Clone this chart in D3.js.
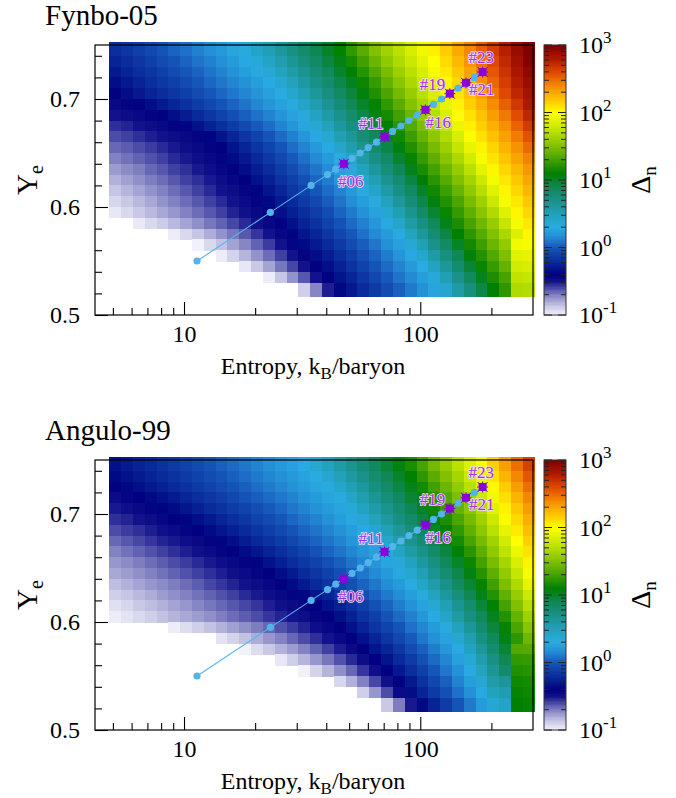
<!DOCTYPE html>
<html><head><meta charset="utf-8">
<script src="https://cdn.jsdelivr.net/npm/d3@7"></script>
<style>
body{margin:0;background:#fff}
svg{display:block}
text{font-family:"Liberation Serif","Times New Roman",serif;fill:#000}
</style>
</head><body>
<svg id="c" width="676" height="798"></svg>
<script>
// ---------------- DATA ----------------
const panelTitles = ["Fynbo-05", "Angulo-99"];
// entropy bin centres (kB/baryon)
const entropyBins = [5.12,5.74,6.44,7.23,8.11,9.10,10.21,11.46,12.85,14.42,16.18,18.16,20.37,22.86,25.64,28.77,32.28,36.22,40.64,45.60,51.17,57.41,64.42,72.28,81.10,91.0,102.1,114.6,128.5,144.2,161.8,181.6,203.7,228.6,256.4,287.7];
// Ye bin centres (rows listed top to bottom)
const yeBins = [0.745,0.735,0.725,0.715,0.705,0.695,0.685,0.675,0.665,0.655,0.645,0.635,0.625,0.615,0.605,0.595,0.585,0.575,0.565,0.555,0.545,0.535,0.525];
// log10(Delta_n) per cell, null = below 0.1 (not drawn)
const fynboLogDn = [
[-0.19,-0.15,-0.10,-0.06,-0.01,0.04,0.08,0.13,0.18,0.22,0.27,0.33,0.43,0.52,0.62,0.72,0.82,0.91,1.01,1.11,1.25,1.38,1.51,1.63,1.73,1.84,1.94,2.05,2.17,2.29,2.41,2.53,2.65,2.77,2.90,3.03],
[-0.24,-0.20,-0.15,-0.10,-0.05,-0.01,0.04,0.09,0.13,0.18,0.23,0.28,0.35,0.45,0.55,0.65,0.75,0.85,0.95,1.05,1.17,1.30,1.43,1.56,1.68,1.79,1.89,2.00,2.12,2.24,2.36,2.48,2.61,2.73,2.86,2.98],
[-0.29,-0.24,-0.19,-0.15,-0.10,-0.05,0.00,0.04,0.09,0.14,0.19,0.24,0.28,0.37,0.47,0.57,0.68,0.78,0.88,0.99,1.09,1.22,1.35,1.48,1.61,1.73,1.84,1.96,2.07,2.19,2.31,2.43,2.56,2.69,2.82,2.93],
[-0.34,-0.29,-0.24,-0.19,-0.14,-0.10,-0.05,0.00,0.05,0.10,0.15,0.19,0.24,0.29,0.39,0.49,0.60,0.71,0.81,0.92,1.03,1.14,1.27,1.41,1.54,1.67,1.79,1.90,2.02,2.14,2.26,2.38,2.51,2.65,2.78,2.89],
[-0.39,-0.34,-0.29,-0.24,-0.20,-0.15,-0.10,-0.05,0.00,0.05,0.10,0.15,0.20,0.25,0.30,0.41,0.52,0.63,0.74,0.85,0.96,1.07,1.20,1.33,1.46,1.59,1.72,1.85,1.97,2.09,2.21,2.33,2.46,2.60,2.74,2.85],
[-0.45,-0.42,-0.39,-0.34,-0.28,-0.23,-0.18,-0.12,-0.07,-0.01,0.04,0.09,0.15,0.20,0.26,0.32,0.43,0.55,0.66,0.77,0.89,1.00,1.12,1.25,1.38,1.52,1.65,1.78,1.91,2.04,2.16,2.27,2.39,2.53,2.67,2.81],
[-0.50,-0.47,-0.45,-0.42,-0.39,-0.33,-0.27,-0.21,-0.15,-0.09,-0.03,0.03,0.08,0.14,0.20,0.26,0.34,0.46,0.58,0.69,0.81,0.93,1.05,1.17,1.30,1.44,1.57,1.71,1.85,1.99,2.10,2.21,2.33,2.45,2.59,2.74],
[-0.55,-0.53,-0.50,-0.47,-0.45,-0.42,-0.38,-0.32,-0.25,-0.19,-0.12,-0.06,0.01,0.07,0.14,0.20,0.27,0.37,0.49,0.61,0.73,0.85,0.97,1.09,1.23,1.36,1.49,1.63,1.77,1.92,2.05,2.16,2.27,2.38,2.52,2.66],
[-0.60,-0.58,-0.55,-0.52,-0.50,-0.47,-0.45,-0.42,-0.38,-0.31,-0.23,-0.16,-0.09,-0.01,0.06,0.13,0.21,0.28,0.39,0.52,0.64,0.77,0.89,1.02,1.15,1.28,1.42,1.55,1.69,1.84,1.99,2.10,2.21,2.32,2.44,2.58],
[-0.65,-0.63,-0.60,-0.57,-0.54,-0.51,-0.48,-0.45,-0.42,-0.39,-0.31,-0.23,-0.16,-0.08,-0.01,0.07,0.14,0.22,0.29,0.42,0.55,0.68,0.81,0.94,1.07,1.20,1.34,1.47,1.61,1.76,1.91,2.04,2.15,2.26,2.37,2.50],
[-0.70,-0.67,-0.64,-0.61,-0.58,-0.54,-0.51,-0.48,-0.45,-0.42,-0.36,-0.29,-0.22,-0.14,-0.07,0.01,0.08,0.16,0.23,0.31,0.44,0.58,0.72,0.85,0.99,1.12,1.26,1.39,1.53,1.67,1.82,1.97,2.09,2.20,2.31,2.42],
[-0.76,-0.72,-0.69,-0.65,-0.62,-0.58,-0.55,-0.51,-0.48,-0.44,-0.41,-0.34,-0.27,-0.20,-0.12,-0.05,0.03,0.10,0.17,0.25,0.34,0.48,0.62,0.76,0.90,1.04,1.18,1.31,1.45,1.58,1.73,1.89,2.03,2.14,2.24,2.35],
[-0.81,-0.77,-0.73,-0.69,-0.66,-0.62,-0.58,-0.55,-0.51,-0.47,-0.44,-0.40,-0.32,-0.25,-0.17,-0.10,-0.03,0.05,0.12,0.20,0.27,0.39,0.53,0.67,0.81,0.95,1.10,1.23,1.37,1.50,1.64,1.80,1.96,2.08,2.19,2.30],
[-0.86,-0.82,-0.78,-0.74,-0.70,-0.66,-0.62,-0.58,-0.54,-0.50,-0.47,-0.43,-0.38,-0.30,-0.23,-0.15,-0.08,0.00,0.07,0.14,0.22,0.29,0.43,0.58,0.72,0.86,1.01,1.15,1.29,1.42,1.56,1.71,1.88,2.03,2.14,2.25],
[-0.91,-0.87,-0.83,-0.79,-0.74,-0.70,-0.66,-0.62,-0.58,-0.54,-0.50,-0.46,-0.42,-0.36,-0.28,-0.21,-0.13,-0.06,0.02,0.09,0.17,0.24,0.33,0.48,0.63,0.77,0.92,1.07,1.21,1.34,1.48,1.62,1.79,1.96,2.08,2.19],
[-0.96,-0.92,-0.87,-0.83,-0.79,-0.75,-0.70,-0.66,-0.62,-0.58,-0.53,-0.49,-0.45,-0.41,-0.33,-0.26,-0.19,-0.11,-0.04,0.04,0.11,0.19,0.26,0.38,0.53,0.68,0.83,0.98,1.13,1.26,1.40,1.54,1.69,1.87,2.03,2.14],
[null,null,-0.97,-0.92,-0.88,-0.83,-0.78,-0.73,-0.68,-0.64,-0.59,-0.54,-0.49,-0.44,-0.39,-0.32,-0.24,-0.17,-0.09,-0.02,0.06,0.13,0.21,0.29,0.42,0.58,0.73,0.88,1.04,1.18,1.32,1.45,1.59,1.77,1.96,2.08],
[null,null,null,null,null,-0.98,-0.92,-0.86,-0.80,-0.74,-0.68,-0.62,-0.56,-0.50,-0.44,-0.38,-0.30,-0.23,-0.15,-0.07,0.00,0.08,0.16,0.23,0.32,0.47,0.63,0.79,0.94,1.10,1.24,1.37,1.51,1.67,1.86,2.03],
[null,null,null,null,null,null,null,-0.99,-0.92,-0.85,-0.78,-0.71,-0.64,-0.57,-0.50,-0.43,-0.36,-0.28,-0.21,-0.13,-0.05,0.02,0.10,0.18,0.25,0.37,0.53,0.69,0.85,1.01,1.16,1.29,1.43,1.57,1.95,1.97],
[null,null,null,null,null,null,null,null,null,-0.98,-0.90,-0.82,-0.74,-0.66,-0.58,-0.50,-0.42,-0.34,-0.27,-0.19,-0.11,-0.03,0.04,0.12,0.20,0.28,0.41,0.58,0.74,0.90,1.07,1.21,1.35,1.49,1.88,1.90],
[null,null,null,null,null,null,null,null,null,null,null,-0.96,-0.87,-0.78,-0.68,-0.59,-0.50,-0.41,-0.33,-0.25,-0.17,-0.09,-0.01,0.06,0.14,0.22,0.30,0.47,0.63,0.80,0.97,1.13,1.27,1.41,1.82,1.84],
[null,null,null,null,null,null,null,null,null,null,null,null,null,-0.98,-0.86,-0.74,-0.62,-0.50,-0.39,-0.31,-0.23,-0.15,-0.07,0.01,0.09,0.16,0.24,0.35,0.52,0.69,0.86,1.03,1.19,1.32,1.75,1.77],
[null,null,null,null,null,null,null,null,null,null,null,null,null,null,null,null,-0.89,-0.71,-0.52,-0.37,-0.29,-0.21,-0.13,-0.05,0.03,0.11,0.19,0.27,0.40,0.58,0.75,0.93,1.10,1.24,1.68,1.70]
];
const anguloLogDn = [
[-0.32,-0.28,-0.24,-0.21,-0.17,-0.13,-0.09,-0.05,-0.01,0.03,0.06,0.10,0.14,0.18,0.22,0.26,0.30,0.39,0.48,0.58,0.68,0.77,0.87,0.97,1.06,1.18,1.32,1.46,1.59,1.73,1.86,1.99,2.16,2.33,2.49,2.64],
[-0.36,-0.32,-0.28,-0.24,-0.21,-0.17,-0.13,-0.09,-0.05,-0.01,0.03,0.07,0.11,0.15,0.18,0.22,0.26,0.30,0.40,0.50,0.60,0.70,0.80,0.90,1.00,1.10,1.24,1.38,1.51,1.65,1.79,1.93,2.09,2.25,2.41,2.56],
[-0.41,-0.37,-0.33,-0.29,-0.25,-0.21,-0.17,-0.13,-0.09,-0.05,-0.01,0.03,0.07,0.11,0.15,0.19,0.23,0.27,0.32,0.42,0.52,0.63,0.73,0.83,0.94,1.04,1.16,1.30,1.43,1.57,1.72,1.87,2.02,2.17,2.33,2.49],
[-0.46,-0.43,-0.40,-0.36,-0.32,-0.28,-0.23,-0.19,-0.15,-0.11,-0.07,-0.02,0.02,0.06,0.10,0.14,0.19,0.23,0.27,0.33,0.44,0.54,0.65,0.76,0.87,0.98,1.08,1.21,1.35,1.49,1.63,1.79,1.95,2.11,2.26,2.41],
[-0.51,-0.48,-0.45,-0.42,-0.39,-0.35,-0.30,-0.26,-0.21,-0.17,-0.12,-0.08,-0.04,0.01,0.05,0.10,0.14,0.19,0.23,0.27,0.35,0.46,0.57,0.68,0.79,0.91,1.02,1.14,1.27,1.41,1.54,1.70,1.88,2.04,2.19,2.34],
[-0.55,-0.53,-0.50,-0.47,-0.44,-0.41,-0.38,-0.33,-0.28,-0.23,-0.19,-0.14,-0.09,-0.05,0.00,0.05,0.09,0.14,0.19,0.24,0.28,0.37,0.49,0.60,0.72,0.83,0.95,1.06,1.19,1.33,1.47,1.62,1.80,1.98,2.13,2.28],
[-0.60,-0.57,-0.55,-0.52,-0.49,-0.46,-0.43,-0.40,-0.35,-0.30,-0.26,-0.21,-0.16,-0.11,-0.06,-0.01,0.04,0.09,0.14,0.19,0.24,0.29,0.40,0.51,0.63,0.75,0.87,0.99,1.11,1.25,1.40,1.55,1.72,1.90,2.07,2.22],
[-0.65,-0.62,-0.59,-0.56,-0.53,-0.51,-0.48,-0.45,-0.42,-0.38,-0.33,-0.27,-0.22,-0.17,-0.12,-0.07,-0.01,0.04,0.09,0.14,0.20,0.25,0.30,0.42,0.55,0.67,0.79,0.91,1.03,1.17,1.32,1.47,1.63,1.82,2.00,2.16],
[-0.70,-0.67,-0.64,-0.61,-0.58,-0.55,-0.52,-0.49,-0.46,-0.43,-0.40,-0.35,-0.30,-0.24,-0.19,-0.13,-0.08,-0.02,0.04,0.09,0.15,0.20,0.26,0.33,0.45,0.58,0.70,0.83,0.95,1.08,1.23,1.39,1.56,1.74,1.93,2.10],
[-0.75,-0.72,-0.69,-0.66,-0.63,-0.60,-0.57,-0.54,-0.51,-0.48,-0.45,-0.42,-0.38,-0.32,-0.26,-0.20,-0.14,-0.09,-0.03,0.03,0.09,0.15,0.21,0.27,0.36,0.49,0.61,0.74,0.87,1.00,1.14,1.31,1.48,1.65,1.85,2.04],
[-0.79,-0.76,-0.73,-0.70,-0.67,-0.64,-0.61,-0.58,-0.55,-0.52,-0.49,-0.46,-0.43,-0.40,-0.34,-0.28,-0.21,-0.15,-0.09,-0.03,0.03,0.10,0.16,0.22,0.28,0.39,0.52,0.66,0.79,0.92,1.06,1.22,1.39,1.57,1.77,1.97],
[-0.84,-0.81,-0.78,-0.75,-0.72,-0.69,-0.66,-0.63,-0.59,-0.56,-0.53,-0.50,-0.47,-0.44,-0.41,-0.35,-0.29,-0.22,-0.16,-0.09,-0.03,0.04,0.10,0.17,0.23,0.30,0.43,0.57,0.70,0.84,0.98,1.12,1.30,1.49,1.68,1.90],
[-0.89,-0.86,-0.83,-0.80,-0.76,-0.73,-0.70,-0.67,-0.64,-0.61,-0.58,-0.54,-0.51,-0.48,-0.45,-0.42,-0.37,-0.30,-0.24,-0.17,-0.10,-0.03,0.04,0.11,0.17,0.24,0.32,0.47,0.61,0.75,0.90,1.04,1.21,1.40,1.59,1.80],
[-0.94,-0.91,-0.87,-0.84,-0.81,-0.78,-0.75,-0.71,-0.68,-0.65,-0.62,-0.59,-0.56,-0.52,-0.49,-0.46,-0.43,-0.39,-0.32,-0.25,-0.18,-0.10,-0.03,0.04,0.12,0.19,0.26,0.37,0.52,0.66,0.81,0.96,1.11,1.31,1.50,1.71],
[-0.98,-0.95,-0.92,-0.89,-0.85,-0.82,-0.79,-0.76,-0.73,-0.69,-0.66,-0.63,-0.60,-0.56,-0.53,-0.50,-0.47,-0.43,-0.40,-0.33,-0.25,-0.17,-0.10,-0.02,0.06,0.13,0.21,0.29,0.43,0.58,0.73,0.88,1.03,1.21,1.41,1.62],
[null,null,null,null,null,-0.98,-0.93,-0.89,-0.85,-0.81,-0.77,-0.73,-0.69,-0.65,-0.61,-0.57,-0.53,-0.48,-0.44,-0.40,-0.32,-0.24,-0.16,-0.08,-0.01,0.08,0.15,0.23,0.33,0.49,0.64,0.80,0.96,1.12,1.33,1.53],
[null,null,null,null,null,null,null,null,null,-0.95,-0.90,-0.85,-0.80,-0.75,-0.70,-0.65,-0.60,-0.55,-0.50,-0.45,-0.40,-0.32,-0.24,-0.15,-0.07,0.01,0.10,0.18,0.26,0.39,0.55,0.72,0.88,1.05,1.24,1.45],
[null,null,null,null,null,null,null,null,null,null,null,-0.99,-0.93,-0.87,-0.81,-0.76,-0.70,-0.64,-0.58,-0.52,-0.46,-0.40,-0.31,-0.23,-0.14,-0.05,0.03,0.12,0.21,0.29,0.46,0.63,0.80,0.97,1.35,1.37],
[null,null,null,null,null,null,null,null,null,null,null,null,null,null,-0.96,-0.89,-0.82,-0.75,-0.68,-0.61,-0.54,-0.47,-0.40,-0.31,-0.21,-0.12,-0.03,0.06,0.15,0.25,0.37,0.55,0.72,0.90,1.25,1.27],
[null,null,null,null,null,null,null,null,null,null,null,null,null,null,null,null,-0.99,-0.90,-0.82,-0.73,-0.65,-0.56,-0.48,-0.39,-0.29,-0.19,-0.10,0.00,0.10,0.19,0.29,0.47,0.65,0.83,1.20,1.22],
[null,null,null,null,null,null,null,null,null,null,null,null,null,null,null,null,null,null,null,-0.91,-0.81,-0.70,-0.59,-0.49,-0.38,-0.28,-0.17,-0.07,0.03,0.14,0.24,0.38,0.57,0.65,1.15,1.17],
[null,null,null,null,null,null,null,null,null,null,null,null,null,null,null,null,null,null,null,null,null,-0.89,-0.75,-0.60,-0.46,-0.34,-0.24,-0.13,-0.03,0.08,0.18,0.29,0.48,0.55,1.12,1.14],
[null,null,null,null,null,null,null,null,null,null,null,null,null,null,null,null,null,null,null,null,null,null,null,-0.87,-0.69,-0.51,-0.36,-0.24,-0.12,-0.01,0.11,0.23,0.38,0.45,1.10,1.12]
];
// trajectories
const trajEntropy = [11.35,23.2,34.5,40.5,43.9,47.5,51.4,55.7,60.2,65.3,70.6,76.3,82.8,89.5,97.1,105.2,113.7,123.0,133.4,144.6,156.2,169.5,183.6];
const trajYe = [0.550,0.595,0.620,0.630,0.635,0.640,0.645,0.650,0.655,0.660,0.665,0.670,0.675,0.680,0.685,0.690,0.695,0.700,0.705,0.710,0.715,0.720,0.725];
const markedIndex = [6,11,16,19,21,23];
const markedLabels = ["#06","#11","#16","#19","#21","#23"];
const xMajorTicks = [10,100];
const xMinorTicks = [5,6,7,8,9,20,30,40,50,60,70,80,90,200];
const yMajorTicks = [0.5,0.6,0.7];
const yMinorTicks = [0.52,0.54,0.56,0.58,0.62,0.64,0.66,0.68,0.72,0.74];
const zExponents = [-1,0,1,2,3];

// ---------------- LAYOUT ----------------
const svg = d3.select("#c");
const frame = {l:95, r:533, t:45, b:315};
const panelShift = [0, 415];
const heatExtentYe = [0.517, 0.7525];
const cb = {l:544, r:566};
const labelOffsets = [[-6,23],[-26,-8],[0,18],[-30,-4],[3,12],[-14,-9]];

const x = d3.scaleLog().domain([4.2, 300]).range([frame.l, frame.r]);
const y = d3.scaleLinear().domain([0.5, 0.75]).range([frame.b, frame.t]);
const z = d3.scaleLinear().domain([-1, 3]).range([frame.b, frame.t]);

const stops = [
 [-1.0,"#f4f4fb"],[-0.85,"#c2c2e3"],[-0.7,"#8282c2"],[-0.6,"#4c4ca8"],[-0.5,"#12128c"],
 [-0.4,"#000080"],[-0.3,"#04168c"],[-0.2,"#0a2c9c"],[-0.1,"#0f40aa"],[0.0,"#1656b8"],
 [0.08,"#1e70c8"],[0.18,"#2490d6"],[0.3,"#29abe2"],[0.5,"#22a1ba"],[0.7,"#1a9189"],
 [0.9,"#0f8856"],[1.1,"#008000"],[1.3,"#40a000"],[1.5,"#80c000"],[1.75,"#c0e400"],
 [2.0,"#ffff00"],[2.2,"#ffc400"],[2.4,"#f58a00"],[2.6,"#e04a00"],[2.8,"#b01800"],[3.0,"#800000"]
];
const color = d3.scaleLinear().domain(stops.map(d=>d[0])).range(stops.map(d=>d[1])).clamp(true);

// cell edges (log space for entropy, midpoints for Ye)
const lc = entropyBins.map(Math.log10);
const colEdges = lc.map((v,i)=>{
  const lo = i===0 ? v-(lc[1]-lc[0])/2 : (lc[i-1]+v)/2;
  const hi = i===lc.length-1 ? v+(v-lc[i-1])/2 : (v+lc[i+1])/2;
  return [Math.pow(10,lo), Math.pow(10,hi)];
});
const rowEdges = yeBins.map((v,i)=>{
  const hi = i===0 ? heatExtentYe[1] : (yeBins[i-1]+v)/2;
  const lo = i===yeBins.length-1 ? heatExtentYe[0] : (v+yeBins[i+1])/2;
  return [lo, hi];
});

const grids = [fynboLogDn, anguloLogDn];

grids.forEach((grid, p) => {
  const g = svg.append("g").attr("transform", `translate(0,${panelShift[p]})`);

  g.append("text").attr("x", 45).attr("y", 25).attr("font-size", 29).text(panelTitles[p]);

  // heatmap cells
  const cells = [];
  grid.forEach((row, r) => row.forEach((v, c) => {
    if (v === null || v < -1) return;
    cells.push({x0: colEdges[c][0], x1: colEdges[c][1], y0: rowEdges[r][0], y1: rowEdges[r][1], v});
  }));
  g.append("g").selectAll("rect").data(cells).join("rect")
    .attr("x", d=>x(d.x0)).attr("width", d=>x(d.x1)-x(d.x0)+0.6)
    .attr("y", d=>y(d.y1)).attr("height", d=>y(d.y0)-y(d.y1)+0.6)
    .attr("fill", d=>color(d.v)).attr("shape-rendering","crispEdges");

  // frame
  g.append("rect").attr("x", frame.l).attr("y", frame.t)
    .attr("width", frame.r-frame.l).attr("height", frame.b-frame.t)
    .attr("fill","none").attr("stroke","#000").attr("stroke-width",1.2);

  // x axis (ticks inward)
  const xMaj = d3.axisBottom(x).tickValues(xMajorTicks).tickSize(-13).tickPadding(10).tickFormat(d3.format("d"));
  const xMin = d3.axisBottom(x).tickValues(xMinorTicks).tickSize(-7).tickFormat("");
  [xMaj, xMin].forEach(ax => {
    const a = g.append("g").attr("transform", `translate(0,${frame.b})`).call(ax);
    a.select(".domain").remove();
    a.selectAll("line").attr("stroke","#000").attr("stroke-width",1.1);
    a.selectAll("text").attr("font-size",24).attr("font-family","Liberation Serif").attr("fill","#000");
  });
  // y axis
  const yMaj = d3.axisLeft(y).tickValues(yMajorTicks).tickSize(-13).tickPadding(15).tickFormat(d3.format(".1f"));
  const yMin = d3.axisLeft(y).tickValues(yMinorTicks).tickSize(-7).tickFormat("");
  [yMaj, yMin].forEach(ax => {
    const a = g.append("g").attr("transform", `translate(${frame.l},0)`).call(ax);
    a.select(".domain").remove();
    a.selectAll("line").attr("stroke","#000").attr("stroke-width",1.1);
    a.selectAll("text").attr("font-size",24).attr("font-family","Liberation Serif").attr("fill","#000");
  });

  // axis titles
  const xt = g.append("text").attr("x", 313).attr("y", 374).attr("text-anchor","middle").attr("font-size",24);
  xt.append("tspan").text("Entropy, k");
  xt.append("tspan").attr("font-size",17).attr("dy",5).text("B");
  xt.append("tspan").attr("dy",-5).text("/baryon");

  const yt = g.append("text").attr("transform","translate(37,180) rotate(-90)").attr("text-anchor","middle").attr("font-size",29);
  yt.append("tspan").text("Y");
  yt.append("tspan").attr("font-size",20).attr("dy",6).text("e");

  // trajectory
  const pts = trajEntropy.map((s,i)=>({s, ye: trajYe[i], idx: i+1}));
  g.append("path").datum(pts)
    .attr("d", d3.line().x(d=>x(d.s)).y(d=>y(d.ye)))
    .attr("fill","none").attr("stroke","#55b6ea").attr("stroke-width",1.1);
  g.append("g").selectAll("circle").data(pts).join("circle")
    .attr("cx", d=>x(d.s)).attr("cy", d=>y(d.ye)).attr("r", 3.6).attr("fill","#52b4e8");

  const marks = markedIndex.map((k,i)=>({p: pts[k-1], label: markedLabels[i], off: labelOffsets[i]}));
  const mg = g.append("g").selectAll("g").data(marks).join("g")
    .attr("transform", d=>`translate(${x(d.p.s)},${y(d.p.ye)})`);
  mg.append("rect").attr("x",-4).attr("y",-4).attr("width",8).attr("height",8).attr("fill","#8a00dc");
  mg.append("path").attr("d","M-5,-5L5,5M-5,5L5,-5M0,-5.5V5.5M-5.5,0H5.5")
    .attr("stroke","#8a00dc").attr("stroke-width",1);

  g.append("g").selectAll("text").data(marks).join("text")
    .attr("x", d=>x(d.p.s)+d.off[0]).attr("y", d=>y(d.p.ye)+d.off[1])
    .attr("font-size",17)
    .attr("stroke","#f3dcff").attr("stroke-width",1.6).attr("paint-order","stroke")
    .style("fill","#a32ee6")
    .text(d=>d.label);

  // colour bar
  const nb = 200;
  const bands = d3.range(nb).map(i => -1 + 4*(i+0.5)/nb);
  g.append("g").selectAll("rect").data(bands).join("rect")
    .attr("x", cb.l).attr("width", cb.r-cb.l)
    .attr("y", d=>z(d+2/nb)).attr("height", z(-1)-z(-1+4/nb)+0.5)
    .attr("fill", d=>color(d)).attr("shape-rendering","crispEdges");
  const cbTicks = [];
  for (let e=-1; e<3; e++) for (let m=2; m<=9; m++) cbTicks.push({v: e+Math.log10(m), major:false});
  zExponents.forEach(e => cbTicks.push({v:e, major:true}));
  const tg = g.append("g");
  cbTicks.forEach(t => {
    const len = t.major ? 8 : 5;
    tg.append("line").attr("x1", cb.l).attr("x2", cb.l+len).attr("y1", z(t.v)).attr("y2", z(t.v)).attr("stroke","#222").attr("stroke-width",1);
    tg.append("line").attr("x1", cb.r-len).attr("x2", cb.r).attr("y1", z(t.v)).attr("y2", z(t.v)).attr("stroke","#222").attr("stroke-width",1);
  });
  g.append("rect").attr("x", cb.l).attr("y", frame.t).attr("width", cb.r-cb.l).attr("height", frame.b-frame.t)
    .attr("fill","none").attr("stroke","#333").attr("stroke-width",1);
  zExponents.forEach(e => {
    const t = g.append("text").attr("x", 579).attr("y", z(e)+8).attr("font-size",24);
    t.append("tspan").text("10");
    t.append("tspan").attr("font-size",17).attr("dy",-10).text(String(e));
  });
  const zt = g.append("text").attr("transform","translate(650,180) rotate(-90)").attr("text-anchor","middle").attr("font-size",28);
  zt.append("tspan").text("Δ");
  zt.append("tspan").attr("font-size",19).attr("dy",6).text("n");
});
</script>
</body></html>
